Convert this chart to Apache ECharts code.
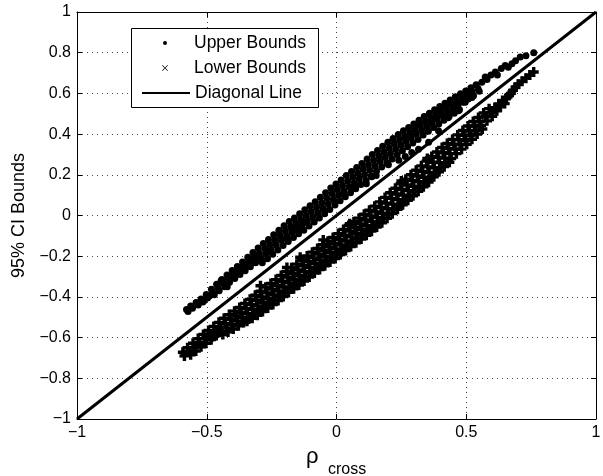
<!DOCTYPE html>
<html>
<head>
<meta charset="utf-8">
<script src="https://cdn.jsdelivr.net/npm/echarts@6/dist/echarts.min.js"></script>
<style>
  html, body { margin: 0; padding: 0; background: #fff; }
  #ciChart { width: 603px; height: 476px; }
</style>
</head>
<body>
<div id="ciChart"></div>
<script>
// axis setup
var xMin = -1, xMax = 1, xStep = 0.5
var yMin = -1, yMax = 1, yStep = 0.2
var seriesNames = ['Upper Bounds', 'Lower Bounds', 'Diagonal Line']

// diagonal reference line
var diagX = [-1, 1]
var diagY = [-1, 1]

// upper CI bounds vs rho_cross
var upperBounds = [
  [-0.578,-0.462],[-0.572,-0.472],[-0.562,-0.445],[-0.555,-0.456],[-0.541,-0.428],[-0.533,-0.44],
  [-0.522,-0.41],[-0.515,-0.425],[-0.51,-0.418],[-0.502,-0.388],[-0.497,-0.405],[-0.49,-0.396],
  [-0.482,-0.362],[-0.477,-0.378],[-0.471,-0.39],[-0.462,-0.338],[-0.457,-0.355],[-0.452,-0.37],
  [-0.442,-0.315],[-0.437,-0.332],[-0.431,-0.35],[-0.445,-0.322],
  [-0.422,-0.292],[-0.417,-0.31],[-0.412,-0.328],[-0.406,-0.302],
  [-0.402,-0.27],[-0.397,-0.288],[-0.392,-0.31],[-0.386,-0.282],
  [-0.382,-0.25],[-0.377,-0.268],[-0.372,-0.29],[-0.366,-0.26],
  [-0.362,-0.228],[-0.357,-0.248],[-0.352,-0.272],[-0.346,-0.24],
  [-0.342,-0.205],[-0.337,-0.228],[-0.332,-0.252],[-0.326,-0.22],
  [-0.322,-0.182],[-0.317,-0.205],[-0.312,-0.232],[-0.306,-0.198],
  [-0.302,-0.16],[-0.297,-0.185],[-0.292,-0.21],[-0.286,-0.232],
  [-0.282,-0.138],[-0.277,-0.162],[-0.272,-0.188],[-0.266,-0.212],
  [-0.262,-0.118],[-0.257,-0.142],[-0.252,-0.168],[-0.246,-0.19],
  [-0.242,-0.095],[-0.237,-0.12],[-0.232,-0.145],[-0.226,-0.17],
  [-0.222,-0.072],[-0.217,-0.098],[-0.212,-0.122],[-0.206,-0.148],
  [-0.202,-0.05],[-0.197,-0.076],[-0.192,-0.102],[-0.186,-0.128],
  [-0.182,-0.03],[-0.177,-0.056],[-0.172,-0.082],[-0.166,-0.108],
  [-0.162,-0.012],[-0.157,-0.038],[-0.152,-0.064],[-0.146,-0.09],
  [-0.142,0.008],[-0.137,-0.02],[-0.132,-0.046],[-0.126,-0.072],
  [-0.122,0.028],[-0.117,0.0],[-0.112,-0.026],[-0.106,-0.052],
  [-0.102,0.048],[-0.097,0.02],[-0.092,-0.006],[-0.086,-0.032],
  [-0.082,0.068],[-0.077,0.04],[-0.072,0.014],[-0.066,-0.012],
  [-0.062,0.09],[-0.057,0.062],[-0.052,0.035],[-0.046,0.008],
  [-0.042,0.112],[-0.037,0.085],[-0.032,0.058],[-0.026,0.03],
  [-0.022,0.135],[-0.017,0.108],[-0.012,0.08],[-0.006,0.052],
  [-0.002,0.155],[0.003,0.128],[0.008,0.1],[0.014,0.072],
  [0.018,0.175],[0.023,0.148],[0.028,0.12],[0.034,0.092],
  [0.038,0.196],[0.043,0.168],[0.048,0.14],[0.054,0.112],
  [0.058,0.216],[0.063,0.188],[0.068,0.16],[0.074,0.132],
  [0.078,0.236],[0.083,0.208],[0.088,0.18],[0.094,0.152],
  [0.098,0.256],[0.103,0.228],[0.108,0.2],[0.114,0.172],
  [0.118,0.278],[0.123,0.25],[0.128,0.222],[0.134,0.194],
  [0.138,0.3],[0.143,0.272],[0.148,0.245],[0.154,0.218],
  [0.158,0.32],[0.163,0.292],[0.168,0.265],[0.174,0.238],
  [0.178,0.34],[0.183,0.312],[0.188,0.285],[0.194,0.258],
  [0.198,0.36],[0.203,0.332],[0.208,0.305],[0.214,0.278],
  [0.218,0.378],[0.223,0.352],[0.228,0.325],[0.234,0.298],
  [0.238,0.398],[0.243,0.372],[0.248,0.345],[0.254,0.318],
  [0.258,0.416],[0.263,0.39],[0.268,0.364],[0.274,0.338],
  [0.278,0.432],[0.283,0.407],[0.288,0.382],[0.294,0.356],
  [0.298,0.45],[0.303,0.425],[0.308,0.4],[0.314,0.374],
  [0.318,0.468],[0.323,0.444],[0.328,0.42],[0.334,0.395],
  [0.338,0.486],[0.343,0.462],[0.348,0.438],[0.354,0.414],
  [0.358,0.502],[0.363,0.479],[0.368,0.456],[0.374,0.432],
  [0.378,0.52],[0.383,0.497],[0.388,0.474],[0.394,0.45],
  [0.398,0.536],[0.403,0.514],[0.408,0.492],[0.414,0.468],
  [0.418,0.552],[0.423,0.53],[0.428,0.508],[0.434,0.486],
  [0.438,0.568],[0.443,0.546],[0.448,0.524],[0.454,0.503],
  [0.458,0.584],[0.463,0.562],[0.468,0.54],[0.474,0.52],
  [0.478,0.598],[0.483,0.577],[0.488,0.556],
  [0.498,0.612],[0.503,0.592],[0.508,0.572],
  [0.518,0.628],[0.523,0.608],[0.528,0.588],
  [0.538,0.642],[0.545,0.624],[0.55,0.61],
  // sparse tip
  [0.56,0.655],[0.573,0.68],[0.58,0.668],[0.595,0.69],[0.612,0.705],[0.62,0.69],[0.635,0.722],
  [0.65,0.737],[0.662,0.728],[0.676,0.746],[0.69,0.76],[0.708,0.779],[0.73,0.785],[0.76,0.80],
  // thin strand just above the diagonal
  [-0.421,-0.35],[-0.293,-0.211],[-0.261,-0.179],[-0.191,-0.109],[-0.166,-0.073],[-0.147,-0.069],
  [-0.121,-0.032],[-0.045,0.025],[-0.006,0.066],[0.026,0.107],[0.064,0.131],[0.072,0.15],
  [0.115,0.156],[0.136,0.19],[0.153,0.197],[0.2,0.25],[0.24,0.272],[0.265,0.29],[0.29,0.31],
  [0.316,0.326],[0.355,0.36],[0.393,0.417],[0.43,0.48],[0.47,0.515],[0.496,0.556],[0.522,0.58]
]

// lower CI bounds vs rho_cross
var lowerBounds = [
  [-0.592,-0.672],[-0.586,-0.69],
  [-0.574,-0.65],[-0.568,-0.668],[-0.562,-0.684],
  [-0.553,-0.628],[-0.548,-0.648],[-0.542,-0.666],
  [-0.533,-0.605],[-0.528,-0.624],[-0.522,-0.645],
  [-0.513,-0.585],[-0.508,-0.605],[-0.503,-0.628],[-0.5,-0.6],
  [-0.493,-0.565],[-0.488,-0.585],[-0.483,-0.61],[-0.478,-0.594],
  [-0.473,-0.545],[-0.468,-0.566],[-0.463,-0.59],[-0.458,-0.578],
  [-0.453,-0.525],[-0.448,-0.548],[-0.443,-0.572],[-0.438,-0.585],
  [-0.433,-0.505],[-0.428,-0.53],[-0.423,-0.553],[-0.418,-0.572],
  [-0.413,-0.487],[-0.408,-0.51],[-0.403,-0.535],[-0.398,-0.558],
  [-0.393,-0.47],[-0.388,-0.494],[-0.383,-0.518],[-0.378,-0.542],
  [-0.373,-0.452],[-0.368,-0.478],[-0.363,-0.5],[-0.358,-0.526],
  [-0.353,-0.432],[-0.348,-0.458],[-0.343,-0.482],[-0.338,-0.508],[-0.345,-0.52],
  [-0.333,-0.412],[-0.328,-0.438],[-0.323,-0.462],[-0.318,-0.488],[-0.325,-0.505],
  [-0.313,-0.392],[-0.308,-0.418],[-0.303,-0.444],[-0.298,-0.47],[-0.305,-0.49],
  [-0.293,-0.372],[-0.288,-0.4],[-0.283,-0.426],[-0.278,-0.452],[-0.285,-0.472],
  [-0.273,-0.352],[-0.268,-0.38],[-0.263,-0.408],[-0.258,-0.434],[-0.265,-0.455],
  [-0.253,-0.334],[-0.248,-0.362],[-0.243,-0.39],[-0.238,-0.416],[-0.245,-0.437],
  [-0.233,-0.315],[-0.228,-0.343],[-0.223,-0.371],[-0.218,-0.397],[-0.225,-0.418],
  [-0.213,-0.295],[-0.208,-0.323],[-0.203,-0.351],[-0.198,-0.377],[-0.205,-0.398],
  [-0.193,-0.275],[-0.188,-0.303],[-0.183,-0.331],[-0.178,-0.357],[-0.185,-0.378],
  [-0.173,-0.257],[-0.168,-0.285],[-0.163,-0.313],[-0.158,-0.339],[-0.165,-0.36],
  [-0.153,-0.239],[-0.148,-0.267],[-0.143,-0.295],[-0.138,-0.321],[-0.145,-0.342],
  [-0.133,-0.219],[-0.128,-0.247],[-0.123,-0.275],[-0.118,-0.301],[-0.125,-0.322],
  [-0.113,-0.199],[-0.108,-0.227],[-0.103,-0.255],[-0.098,-0.281],[-0.105,-0.302],
  [-0.093,-0.18],[-0.088,-0.208],[-0.083,-0.236],[-0.078,-0.262],[-0.085,-0.283],
  [-0.073,-0.162],[-0.068,-0.19],[-0.063,-0.218],[-0.058,-0.244],[-0.065,-0.265],
  [-0.053,-0.144],[-0.048,-0.172],[-0.043,-0.2],[-0.038,-0.226],[-0.045,-0.247],
  [-0.033,-0.126],[-0.028,-0.154],[-0.023,-0.182],[-0.018,-0.208],[-0.025,-0.229],
  [-0.013,-0.108],[-0.008,-0.136],[-0.003,-0.164],[0.002,-0.19],[-0.005,-0.211],
  [0.007,-0.089],[0.012,-0.117],[0.017,-0.145],[0.022,-0.171],[0.015,-0.192],
  [0.027,-0.069],[0.032,-0.097],[0.037,-0.125],[0.042,-0.151],[0.035,-0.172],
  [0.047,-0.049],[0.052,-0.077],[0.057,-0.105],[0.062,-0.131],[0.055,-0.152],
  [0.067,-0.031],[0.072,-0.059],[0.077,-0.087],[0.082,-0.113],[0.075,-0.134],
  [0.087,-0.013],[0.092,-0.041],[0.097,-0.069],[0.102,-0.095],[0.095,-0.116],
  [0.107,0.006],[0.112,-0.022],[0.117,-0.05],[0.122,-0.076],[0.115,-0.097],
  [0.127,0.026],[0.132,-0.002],[0.137,-0.03],[0.142,-0.056],[0.135,-0.077],
  [0.147,0.046],[0.152,0.018],[0.157,-0.01],[0.162,-0.036],[0.155,-0.057],
  [0.167,0.067],[0.172,0.039],[0.177,0.011],[0.182,-0.015],[0.175,-0.036],
  [0.187,0.089],[0.192,0.061],[0.197,0.033],[0.202,0.007],[0.195,-0.014],
  [0.207,0.112],[0.212,0.084],[0.217,0.056],[0.222,0.03],[0.215,0.009],
  [0.227,0.134],[0.232,0.106],[0.237,0.078],[0.242,0.052],[0.235,0.031],
  [0.247,0.156],[0.252,0.128],[0.257,0.1],[0.262,0.074],[0.255,0.053],
  [0.267,0.178],[0.272,0.15],[0.277,0.122],[0.282,0.096],[0.275,0.075],
  [0.287,0.2],[0.292,0.172],[0.297,0.144],[0.302,0.118],[0.295,0.097],
  [0.307,0.222],[0.312,0.194],[0.317,0.166],[0.322,0.14],[0.315,0.119],
  [0.327,0.244],[0.332,0.216],[0.337,0.188],[0.342,0.162],[0.335,0.141],
  [0.347,0.267],[0.352,0.239],[0.357,0.211],[0.362,0.185],[0.355,0.164],
  [0.367,0.29],[0.372,0.262],[0.377,0.235],[0.382,0.21],[0.375,0.19],
  [0.387,0.312],[0.392,0.286],[0.397,0.26],[0.402,0.235],[0.395,0.215],
  [0.407,0.334],[0.412,0.308],[0.417,0.282],[0.422,0.258],[0.415,0.24],
  [0.427,0.354],[0.432,0.329],[0.437,0.304],[0.442,0.28],[0.435,0.262],
  [0.447,0.374],[0.452,0.35],[0.457,0.326],[0.462,0.304],
  [0.467,0.396],[0.472,0.372],[0.477,0.348],[0.482,0.326],
  [0.487,0.418],[0.492,0.394],[0.497,0.37],[0.502,0.35],
  [0.507,0.44],[0.512,0.416],[0.517,0.394],[0.522,0.375],
  [0.527,0.462],[0.532,0.44],[0.537,0.418],[0.542,0.4],
  [0.547,0.482],[0.552,0.462],[0.557,0.442],[0.562,0.425],
  [0.567,0.504],[0.574,0.485],[0.58,0.465],
  [0.588,0.525],[0.594,0.505],[0.6,0.488],
  // sparse tip
  [0.61,0.53],[0.618,0.515],[0.625,0.548],[0.632,0.535],[0.64,0.565],[0.648,0.55],[0.655,0.578],
  [0.665,0.59],[0.672,0.6],[0.68,0.615],[0.69,0.63],[0.7,0.645],[0.715,0.66],[0.73,0.675],
  [0.745,0.69],[0.76,0.705],
  // markers poking above the band
  [-0.293,-0.345],[-0.191,-0.255],[-0.14,-0.205],[-0.051,-0.12],[0.051,-0.04],[0.25,0.17],[0.35,0.28]
]

var fontName = 'Liberation Sans, Arial, sans-serif'
var plusPath = 'path://M0,3.3H10V6.7H0Z M3.3,0H6.7V10H3.3Z'
var crossPath = 'path://M0.8,0L5,4.2L9.2,0L10,0.8L5.8,5L10,9.2L9.2,10L5,5.8L0.8,10L0,9.2L4.2,5L0,0.8Z'

function tickText(v) {
  var s = String(parseFloat(v.toFixed(1)))
  return s.replace('-', '\u2212')
}

var chart = echarts.init(document.getElementById('ciChart'))

var diagData = []
for (var i = 0; i < diagX.length; i++) {
  diagData.push([diagX[i], diagY[i]])
}

var gridLine = { show: true, lineStyle: { color: '#444', width: 1, type: [1, 4] } }
var axisBase = {
  type: 'value',
  axisLine: { show: true, onZero: false, lineStyle: { color: '#000', width: 1 } },
  axisTick: { show: true, inside: true, length: 5, lineStyle: { color: '#000' } }
}

var legendText = { color: '#000', fontSize: 17.5, fontFamily: fontName }

chart.setOption({
  animation: false,
  backgroundColor: '#fff',
  grid: { left: 77, right: 7, top: 12, bottom: 57, outerBoundsMode: 'none' },
  xAxis: [
    Object.assign({}, axisBase, {
      min: xMin, max: xMax, interval: xStep, position: 'bottom',
      axisLabel: { color: '#000', fontSize: 16, fontFamily: fontName, margin: 6, formatter: tickText },
      splitLine: gridLine
    }),
    Object.assign({}, axisBase, {
      min: xMin, max: xMax, interval: xStep, position: 'top',
      axisLabel: { show: false }, splitLine: { show: false }
    })
  ],
  yAxis: [
    Object.assign({}, axisBase, {
      min: yMin, max: yMax, interval: yStep, position: 'left',
      name: '95% CI Bounds',
      nameLocation: 'middle',
      nameGap: 48,
      nameTextStyle: { color: '#000', fontSize: 18, fontFamily: fontName },
      axisLabel: { color: '#000', fontSize: 16, fontFamily: fontName, margin: 6, formatter: tickText },
      splitLine: gridLine
    }),
    Object.assign({}, axisBase, {
      min: yMin, max: yMax, interval: yStep, position: 'right',
      axisLabel: { show: false }, splitLine: { show: false }
    })
  ],
  legend: [
    {
      data: [seriesNames[0]], icon: 'circle',
      left: 163, top: 34, padding: 0, itemWidth: 48, itemHeight: 4, itemTextGap: 6,
      selectedMode: false, z: 20, textStyle: legendText
    },
    {
      data: [seriesNames[1]], icon: crossPath,
      left: 162, top: 59, padding: 0, itemWidth: 48, itemHeight: 6, itemTextGap: 6,
      selectedMode: false, z: 20, textStyle: legendText
    },
    {
      data: [seriesNames[2]],
      left: 141, top: 84, padding: 0, itemWidth: 48, itemHeight: 14, itemTextGap: 6,
      selectedMode: false, z: 20, textStyle: legendText,
      itemStyle: { opacity: 0 }
    }
  ],
  graphic: [
    {
      type: 'rect',
      z: 10,
      shape: { x: 131.5, y: 28.5, width: 187, height: 79 },
      style: { fill: '#fff', stroke: '#000', lineWidth: 1 }
    },
    {
      type: 'text',
      z: 10,
      style: { text: '\u03c1', x: 306, y: 457, font: '22px ' + fontName, fill: '#000', textVerticalAlign: 'middle' }
    },
    {
      type: 'text',
      z: 10,
      style: { text: 'cross', x: 328, y: 470, font: '16px ' + fontName, fill: '#000', textVerticalAlign: 'middle' }
    }
  ],
  series: [
    {
      name: seriesNames[0],
      type: 'scatter',
      data: upperBounds,
      symbol: 'circle',
      symbolSize: 7,
      itemStyle: { color: '#000', opacity: 1 },
      emphasis: { disabled: true }
    },
    {
      name: seriesNames[1],
      type: 'scatter',
      data: lowerBounds,
      symbol: plusPath,
      symbolSize: 10,
      itemStyle: { color: '#000', opacity: 1 },
      emphasis: { disabled: true }
    },
    {
      name: seriesNames[2],
      type: 'line',
      data: diagData,
      symbol: 'none',
      lineStyle: { color: '#000', width: 3 },
      itemStyle: { color: '#000' },
      z: 3
    }
  ]
})
</script>
</body>
</html>
